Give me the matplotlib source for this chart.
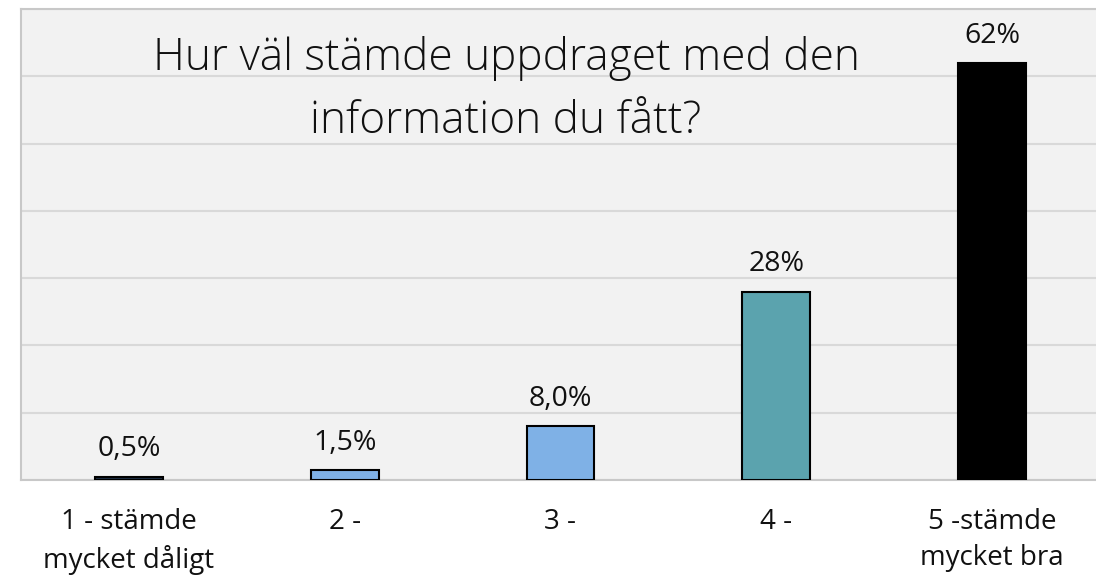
import numpy as np
import matplotlib
matplotlib.use("Agg")
import matplotlib.pyplot as plt

# data
categories = ["1 - stämde\nmycket dåligt", "2 -", "3 -", "4 -", "5 -stämde\nmycket bra"]
values = [0.5, 1.5, 8.0, 28, 62]
value_labels = ["0,5%", "1,5%", "8,0%", "28%", "62%"]
bar_colors = ["#1d2f45", "#7fb1e6", "#7fb1e6", "#5ba3ae", "#000000"]
title = "Hur väl stämde uppdraget med den\ninformation du fått?"

plt.rcParams['font.family'] = ['Open Sans', 'DejaVu Sans']

fig = plt.figure(figsize=(10.96, 5.76), dpi=100)
ax = fig.add_axes([21 / 1096, 1 - 480 / 576, 1079 / 1096, 471 / 576])
ax.set_facecolor("#f2f2f2")

x = np.arange(len(categories))
bars = ax.bar(x, values, width=0.315, color=bar_colors, edgecolor="black",
              linewidth=1.5, zorder=3)

for xi, v, lab in zip(x, values, value_labels):
    ax.annotate(lab, (xi, v), xytext=(0, 14.5), textcoords="offset points",
                ha="center", va="baseline", fontsize=20.5, color="#111111")

ax.set_xlim(-0.5, len(categories) - 0.5)
ax.set_ylim(0, 70)
ax.set_yticks(np.arange(0, 71, 10))
ax.yaxis.grid(True, color="#d9d9d9", linewidth=1.5, zorder=0)
ax.tick_params(axis="y", left=False, labelleft=False)
ax.tick_params(axis="x", bottom=False, labelsize=20, pad=17, colors="#111111")
ax.set_xticks(x)
ax.set_xticklabels(categories, linespacing=1.36)

for s in ax.spines.values():
    s.set_color("#c8c8c8")
    s.set_linewidth(1.5)

ax.text(0.4495, 0.828, title, transform=ax.transAxes, ha="center", va="center",
        fontsize=31.8, fontweight="light", linespacing=1.57, color="#111111")

fig.savefig("out.png", dpi=100)
